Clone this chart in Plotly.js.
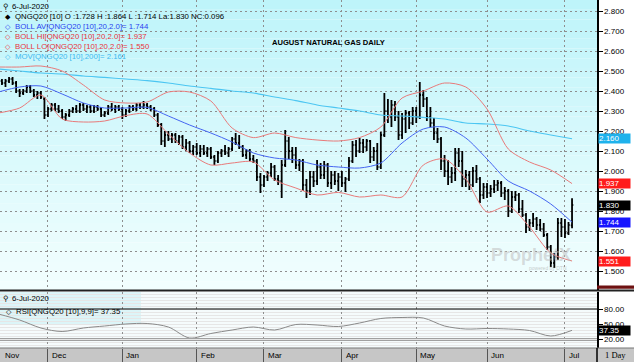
<!DOCTYPE html>
<html><head><meta charset="utf-8">
<script src="https://cdn.plot.ly/plotly-3.0.1.min.js"></script>
<style>html,body{margin:0;padding:0;background:#fff}#chart{width:634px;height:362px}</style>
</head><body><div id="chart"></div>
<script>
// ---- calendar (trading days of NGQ20 daily chart) ----
const startDate = '2019-11-11';
const endDate = '2020-07-06';
const holidays = ['2019-11-28','2019-12-25','2020-01-01','2020-01-20','2020-02-17','2020-04-10','2020-05-25','2020-07-03'];

// ---- daily OHLC ----
const open = [2.44,2.45,2.44,2.45,2.46,2.44,2.40,2.39,2.40,2.42,2.40,2.38,2.39,2.36,
2.28,2.31,2.33,2.31,2.30,2.27,2.28,2.30,2.31,2.30,2.33,2.31,2.32,2.30,2.32,2.31,2.28,2.29,2.32,2.31,2.32,2.31,2.28,2.30,2.32,2.31,2.33,2.32,2.33,2.32,
2.31,2.28,2.23,2.15,2.18,2.16,2.18,2.15,2.17,2.12,2.14,2.10,2.12,2.09,2.11,2.09,2.11,2.07,2.05,2.09,2.10,2.09,2.11,2.16,2.14,2.12,2.08,2.10,2.06,2.05,1.97,1.93,1.97,1.99,2.02,1.96,
1.95,2.03,2.15,2.10,2.08,2.03,2.05,1.93,1.90,1.97,1.95,2.02,1.98,2.03,1.94,1.98,1.95,1.97,1.94,1.96,2.05,2.13,2.10,2.14,2.12,2.15,2.07,2.10,2.02,2.18,
2.30,2.27,2.33,2.27,2.18,2.26,2.29,2.24,2.30,2.27,2.38,2.36,2.27,2.24,2.19,2.16,2.05,2.00,1.97,1.99,2.09,2.05,1.96,1.98,1.93,2.00,1.96,1.88,1.92,1.89,
1.91,1.93,1.94,1.89,1.90,1.80,1.87,1.88,1.81,1.78,1.72,1.74,1.76,1.73,1.71,1.68,1.62,1.54,1.57,1.74,1.72,1.69,1.728];
const high = [2.47,2.46,2.46,2.47,2.47,2.45,2.41,2.41,2.43,2.43,2.41,2.40,2.40,2.37,
2.32,2.34,2.34,2.33,2.31,2.29,2.31,2.32,2.33,2.34,2.34,2.33,2.33,2.33,2.33,2.32,2.30,2.33,2.34,2.33,2.33,2.32,2.31,2.33,2.33,2.34,2.34,2.35,2.34,2.33,
2.32,2.29,2.24,2.20,2.20,2.19,2.19,2.18,2.18,2.16,2.15,2.13,2.14,2.13,2.13,2.12,2.12,2.08,2.10,2.11,2.13,2.12,2.17,2.19,2.18,2.13,2.11,2.11,2.08,2.06,1.99,1.98,2.00,2.04,2.03,1.98,
2.055,2.205,2.17,2.12,2.12,2.06,2.06,1.96,2.00,2.00,2.055,2.04,2.05,2.04,2.00,2.00,1.99,2.00,1.97,2.07,2.15,2.155,2.165,2.16,2.16,2.155,2.12,2.14,2.195,2.39,
2.36,2.355,2.35,2.30,2.29,2.305,2.30,2.32,2.32,2.445,2.405,2.37,2.32,2.265,2.215,2.17,2.08,2.055,2.02,2.115,2.115,2.10,2.005,2.00,2.02,2.03,1.97,1.94,1.94,1.93,
1.955,1.955,1.95,1.92,1.91,1.90,1.90,1.89,1.855,1.79,1.76,1.79,1.77,1.76,1.74,1.69,1.63,1.59,1.765,1.765,1.76,1.745,1.864];
const low = [2.43,2.43,2.42,2.44,2.43,2.39,2.37,2.38,2.39,2.39,2.37,2.36,2.36,2.26,
2.27,2.30,2.30,2.29,2.26,2.25,2.27,2.29,2.29,2.29,2.30,2.29,2.29,2.29,2.30,2.27,2.27,2.28,2.30,2.29,2.30,2.26,2.27,2.29,2.30,2.30,2.31,2.31,2.31,2.30,
2.27,2.22,2.13,2.12,2.15,2.14,2.14,2.13,2.11,2.10,2.09,2.08,2.08,2.07,2.08,2.07,2.06,2.03,2.04,2.07,2.08,2.07,2.10,2.13,2.11,2.07,2.06,2.05,2.04,1.95,1.89,1.92,1.95,1.97,1.95,1.93,
1.865,2.02,2.06,2.04,2.01,2.00,1.90,1.865,1.88,1.92,1.93,1.96,1.96,1.92,1.91,1.93,1.90,1.92,1.895,1.95,2.04,2.07,2.09,2.09,2.10,2.04,2.05,2.005,2.01,2.17,
2.24,2.22,2.25,2.155,2.16,2.19,2.21,2.23,2.24,2.26,2.32,2.25,2.22,2.155,2.14,2.005,1.97,1.93,1.94,1.95,2.02,1.92,1.92,1.905,1.92,1.94,1.84,1.86,1.865,1.87,
1.89,1.90,1.87,1.855,1.77,1.79,1.85,1.79,1.77,1.69,1.70,1.72,1.705,1.70,1.67,1.605,1.52,1.515,1.555,1.67,1.665,1.68,1.714];
const close = [2.45,2.44,2.45,2.46,2.44,2.40,2.39,2.40,2.42,2.40,2.38,2.39,2.37,2.28,
2.31,2.33,2.31,2.30,2.27,2.28,2.30,2.31,2.30,2.33,2.31,2.32,2.30,2.32,2.31,2.28,2.29,2.32,2.31,2.32,2.31,2.28,2.30,2.32,2.31,2.33,2.32,2.33,2.32,2.31,
2.28,2.23,2.15,2.18,2.16,2.18,2.15,2.17,2.12,2.14,2.10,2.12,2.09,2.11,2.09,2.11,2.07,2.05,2.09,2.10,2.09,2.11,2.16,2.14,2.12,2.08,2.10,2.06,2.05,1.97,1.93,1.97,1.99,2.02,1.96,1.95,
2.03,2.15,2.10,2.08,2.03,2.05,1.93,1.90,1.97,1.95,2.02,1.98,2.03,1.94,1.98,1.95,1.97,1.94,1.96,2.05,2.13,2.10,2.14,2.12,2.15,2.07,2.10,2.02,2.18,2.30,
2.27,2.33,2.27,2.18,2.26,2.29,2.24,2.30,2.27,2.38,2.36,2.27,2.24,2.19,2.16,2.05,2.00,1.97,1.99,2.09,2.05,1.96,1.98,1.93,2.00,1.96,1.88,1.92,1.89,1.91,
1.93,1.94,1.89,1.90,1.80,1.87,1.88,1.81,1.78,1.72,1.74,1.76,1.73,1.71,1.68,1.62,1.54,1.57,1.74,1.72,1.69,1.73,1.830];

// ---- indicators, read every 6th trading day ----
const sampleStep = 6;
const bollUpper = [2.52,2.52,2.525,2.50,2.43,2.355,2.34,2.345,2.395,2.395,2.35,2.215,2.167,2.19,2.167,2.155,2.15,2.167,2.22,2.365,2.40,2.44,2.42,2.31,2.11,2.045,2.005,1.937];
const bollMid   = [2.395,2.42,2.425,2.385,2.34,2.315,2.315,2.318,2.275,2.23,2.19,2.145,2.09,2.065,2.055,2.03,2.02,2.015,2.04,2.14,2.21,2.22,2.165,2.06,1.95,1.90,1.835,1.744];
const bollLower = [2.29,2.315,2.38,2.26,2.245,2.25,2.277,2.285,2.185,2.09,2.03,2.04,2.045,1.955,1.915,1.88,1.893,1.87,1.88,1.87,2.03,2.06,1.96,1.795,1.825,1.72,1.59,1.55];
const mov200    = [2.51,2.50,2.49,2.485,2.475,2.468,2.46,2.452,2.44,2.425,2.413,2.40,2.39,2.37,2.352,2.33,2.315,2.30,2.28,2.275,2.268,2.26,2.24,2.235,2.225,2.20,2.18,2.161];
const rsi       = [70,58,42,35,42,46,50,51,44,22,31,38,44,38,49,48,45,52,61,63,62,46,40,41,40,37,26,37.35];

// ---- axis labels ----
const priceTicks = [1.5,1.6,1.7,1.8,1.9,2.0,2.1,2.2,2.3,2.4,2.5,2.6,2.7,2.8];
const rsiTicks = [20,50,80];
const monthStarts = ['2019-12-02','2020-01-02','2020-02-03','2020-03-02','2020-04-01','2020-05-01','2020-06-01','2020-07-01'];
const monthLabels = ['Dec','Jan','Feb','Mar','Apr','May','Jun','Jul'];
const firstMonthLabel = 'Nov';
const tagTexts = {mov:'2.160', hi:'1.937', last:'1.830', av:'1.744', lo:'1.551', rsi:'37.35'};

function tradingDays(s, e, hol) {
  const out = [];
  let d = new Date(s + 'T00:00:00Z');
  const end = new Date(e + 'T00:00:00Z');
  while (d <= end) {
    const wd = d.getUTCDay();
    const iso = d.toISOString().slice(0, 10);
    if (wd !== 0 && wd !== 6 && !hol.includes(iso)) out.push(iso);
    d = new Date(d.getTime() + 86400000);
  }
  return out;
}
const dates = tradingDays(startDate, endDate, holidays);
const sampleDates = dates.filter((_, i) => i % sampleStep === 0);

// geometry helpers
const PH = 348, PW = 597;
const py = px => (PH - px) / PH;
const pxX = px => px / PW;

const lineTrace = (y, color, w) => ({type:'scatter', mode:'lines', x:sampleDates, y:y, xaxis:'x', yaxis:'y',
  line:{color:color, width:w, shape:'spline', smoothing:0.8}, hoverinfo:'skip'});

const traces = [
  {type:'ohlc', x:dates, open:open, high:high, low:low, close:close, xaxis:'x', yaxis:'y',
   increasing:{line:{color:'#000', width:1.8}}, decreasing:{line:{color:'#000', width:1.8}}, tickwidth:0.35, hoverinfo:'skip'},
  lineTrace(mov200, '#4cc6f2', 1.1),
  lineTrace(bollUpper, '#e97a7a', 1),
  lineTrace(bollLower, '#e97a7a', 1),
  lineTrace(bollMid, '#4565f2', 1),
  {type:'scatter', mode:'lines', x:sampleDates, y:rsi, xaxis:'x', yaxis:'y2',
   line:{color:'#8a8a8a', width:1, shape:'spline', smoothing:0.9}, hoverinfo:'skip'}
];

const F = 'Arial, "Liberation Sans", sans-serif';
const ann = [];
function txt(text, xpx, ypx, color, size, extra) {
  ann.push(Object.assign({xref:'paper', yref:'paper', x:pxX(xpx), y:py(ypx), xanchor:'left', yanchor:'middle',
    text:text, showarrow:false, font:{family:F, size:size, color:color}}, extra || {}));
}
const LS = 7.8;
// main legend
txt('⚲', 1, 6, '#000', 7, {font:{family:'DejaVu Sans', size:7.5, color:'#000'}});
txt('6-Jul-2020', 10, 6, '#000', LS);
txt('◆', 3, 16, '#000', 7);
txt('QNGQ20 [10] O :1.728 H :1.864 L :1.714 La:1.830 NC:0.096', 13, 16, '#000', LS);
txt('◇', 3, 26.5, '#2b3ff0', 7);
txt('BOLL AV[QNGQ20 [10],20,2.0]= 1.744', 13, 26.5, '#2b3ff0', LS);
txt('◇', 3, 36.5, '#e8323a', 7);
txt('BOLL HI[QNGQ20 [10],20,2.0]= 1.937', 13, 36.5, '#e8323a', LS);
txt('◇', 3, 46.5, '#e8323a', 7);
txt('BOLL LO[QNGQ20 [10],20,2.0]= 1.550', 13, 46.5, '#e8323a', LS);
txt('◇', 3, 56.5, '#3cb8f0', 7);
txt('MOV[QNGQ20 [10],200]= 2.161', 13, 56.5, '#3cb8f0', LS);
// title
ann.push({xref:'paper', yref:'paper', x:pxX(328), y:py(42), xanchor:'center', yanchor:'middle', showarrow:false,
  text:'<b>AUGUST NATURAL GAS DAILY</b>', font:{family:F, size:7.6, color:'#000'}});
// RSI legend
txt('⚲', 1, 298, '#000', 7, {font:{family:'DejaVu Sans', size:7.5, color:'#000'}});
txt('6-Jul-2020', 10, 298, '#000', LS);
txt('◇', 4, 311, '#000', 7);
txt('RSI[QNGQ20 [10],9,9]= 37.35', 14, 311, '#000', LS);
// watermark
ann.push({xref:'paper', yref:'paper', x:pxX(531), y:py(255), xanchor:'center', yanchor:'middle', showarrow:false,
  text:'<b>ProphetX</b>', font:{family:F, size:18, color:'rgba(190,190,190,0.55)'}});
ann.push({xref:'paper', yref:'paper', x:pxX(548), y:py(268), xanchor:'center', yanchor:'middle', showarrow:false,
  text:'powered by DTN', font:{family:F, size:5, color:'rgba(170,170,170,0.6)'}});
// month labels
txt(firstMonthLabel, 3, 355, '#000', 8);
monthStarts.forEach((d, k) => ann.push({xref:'x', yref:'paper', x:d, y:py(355), xanchor:'left', yanchor:'middle', xshift:2,
  showarrow:false, text:monthLabels[k], font:{family:F, size:8, color:'#000'}}));
txt('1 Day', 603, 355, '#000', 8.5, {font:{family:'"Liberation Serif", serif', size:8.5, color:'#000'}});
// right-side value tags
function tag(val, yref, bg, text) {
  ann.push({xref:'paper', yref:yref, x:1, y:val, xanchor:'left', yanchor:'middle', xshift:1, showarrow:false,
    text:text, bgcolor:bg, width:31, height:9, align:'left', borderpad:0, font:{family:F, size:8, color:'#fff'}});
}
tag(mov200[mov200.length - 1], 'y', '#1eb2ec', tagTexts.mov);
tag(bollUpper[bollUpper.length - 1], 'y', '#ff1c1c', tagTexts.hi);
tag(close[close.length - 1], 'y', '#000', tagTexts.last);
tag(bollMid[bollMid.length - 1], 'y', '#1616ff', tagTexts.av);
tag(bollLower[bollLower.length - 1], 'y', '#ff1c1c', tagTexts.lo);
tag(rsi[rsi.length - 1], 'y2', '#000', tagTexts.rsi);

const RX = 634 / PW;
// background gradient of the price panel, as stacked bands
const gradTop = [190, 244, 250], gradBot = [242, 254, 254];
const shapes = [];
const nBands = 30;
for (let k = 0; k < nBands; k++) {
  const t = k / (nBands - 1);
  const c = gradTop.map((v, j) => Math.round(v + (gradBot[j] - v) * t));
  shapes.push({type:'rect', xref:'paper', yref:'paper', x0:0, x1:1,
    y1:py(291 * k / nBands), y0:py(291 * (k + 1) / nBands),
    fillcolor:'rgb(' + c.join(',') + ')', line:{width:0}, layer:'below'});
}
shapes.push(
  {type:'rect', xref:'paper', yref:'paper', x0:0, x1:1, y0:0, y1:py(292), fillcolor:'#f5fbfc', line:{width:0}, layer:'below'},
  {type:'rect', xref:'paper', yref:'paper', x0:0, x1:pxX(141), y0:py(325), y1:py(292), fillcolor:'#dcf5f8', line:{width:0}, layer:'below'},
  {type:'line', xref:'paper', yref:'y2', x0:0, x1:1, y0:80, y1:80, line:{color:'#000', width:1}},
  {type:'line', xref:'paper', yref:'y2', x0:0, x1:1, y0:21, y1:21, line:{color:'#a0a0a0', width:1}},
  {type:'line', xref:'paper', yref:'y2', x0:0, x1:1, y0:17, y1:17, line:{color:'#a0a0a0', width:1}},
  {type:'line', xref:'paper', yref:'paper', x0:0, x1:RX, y0:py(290.5), y1:py(290.5), line:{color:'#222', width:2}},
  {type:'rect', xref:'paper', yref:'paper', x0:1, x1:RX, y0:py(288.8), y1:py(285.5), fillcolor:'#6e1212', line:{width:0}},
  {type:'rect', xref:'paper', yref:'paper', x0:0, x1:RX, y0:py(362), y1:0, fillcolor:'#c6c6c6', line:{width:0}, layer:'below'},
  {type:'line', xref:'paper', yref:'paper', x0:0, x1:RX, y0:0, y1:0, line:{color:'#777', width:1}},
  {type:'line', xref:'paper', yref:'paper', x0:1, x1:1, y0:py(362), y1:0, line:{color:'#000', width:1.5}}
);

const gridStyle = {showgrid:true, gridcolor:'#8e8e8e', griddash:'2px,3px', gridwidth:1};

const layout = {
  width:634, height:362,
  margin:{l:0, r:37, t:0, b:14, pad:0},
  paper_bgcolor:'#ffffff', plot_bgcolor:'rgba(0,0,0,0)',
  showlegend:false,
  font:{family:F, size:8, color:'#000'},
  xaxis:Object.assign({type:'category', categoryorder:'array', categoryarray:dates, range:[0.45, 169.05], anchor:'y2',
    tickmode:'array', tickvals:monthStarts,
    ticktext:monthStarts.map(() => ''), showticklabels:false, ticks:'outside', ticklen:14, tickcolor:'#555', tickwidth:1,
    zeroline:false, showline:false, rangeslider:{visible:false}, fixedrange:true}, gridStyle),
  yaxis:Object.assign({domain:[py(291), 1], range:[1.40, 2.855], anchor:'x', side:'right', tickmode:'array',
    tickvals:priceTicks, ticktext:priceTicks.map(v => v.toFixed(3)), ticks:'outside', ticklen:4, tickcolor:'#000',
    tickfont:{family:F, size:8, color:'#000'}, showline:true, linecolor:'#000', linewidth:1.5, zeroline:false, fixedrange:true}, gridStyle),
  yaxis2:{domain:[0, py(292)], range:[2, 114], anchor:'x', side:'right', tickmode:'array', tickvals:rsiTicks,
    ticktext:rsiTicks.map(v => v.toFixed(2)), ticks:'outside', ticklen:4, tickcolor:'#000',
    tickfont:{family:F, size:8, color:'#000'}, showgrid:false,
    minor:{tickmode:'linear', tick0:2, dtick:6, showgrid:true, gridcolor:'#e6e6e6', gridwidth:1, ticks:''},
    showline:true, linecolor:'#000', linewidth:1.5, zeroline:false, fixedrange:true},
  shapes:shapes,
  annotations:ann
};

Plotly.newPlot('chart', traces, layout, {staticPlot:true, displayModeBar:false});
</script>
</body></html>
